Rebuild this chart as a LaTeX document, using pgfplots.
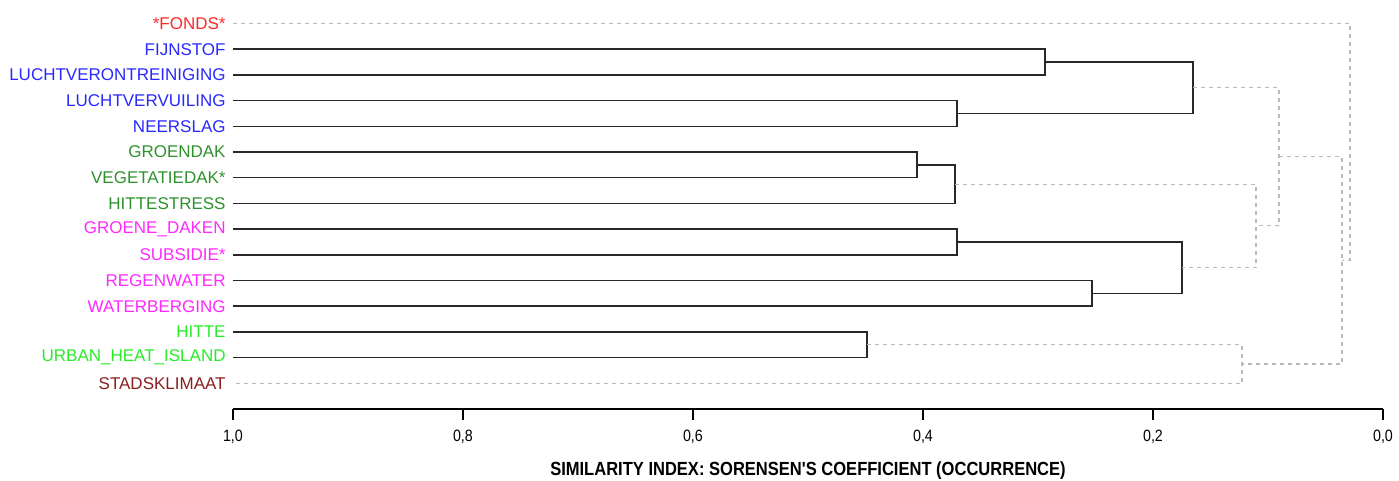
\documentclass[border=0pt]{standalone}
\usepackage{pgfplots}
\pgfplotsset{compat=1.18}
\usepackage{fontspec}
\setmainfont{Liberation Sans}
\newfontfamily\narrowfont[FakeStretch=0.87]{Liberation Sans}
\definecolor{cRed}{RGB}{255,40,40}
\definecolor{cBlue}{RGB}{40,40,255}
\definecolor{cGreen}{RGB}{45,145,45}
\definecolor{cMag}{RGB}{255,40,255}
\definecolor{cLime}{RGB}{40,235,40}
\definecolor{cBrown}{RGB}{140,30,30}
\definecolor{cLine}{RGB}{40,40,40}
\definecolor{cDash}{RGB}{185,185,185}
\begin{document}
\begin{tikzpicture}
\begin{axis}[
  name=ax,
  scale only axis,
  width=575pt, height=204.5pt,
  xmin=0, xmax=1, x dir=reverse,
  ymin=-15, ymax=0.914,
  clip=false,
  axis x line*=bottom, axis y line*=left,
  y axis line style={draw=none},
  x axis line style={-, line width=0.75pt, black},
  xtick={0,0.2,0.4,0.6,0.8,1},
  xticklabels={{0,0},{0,2},{0,4},{0,6},{0,8},{1,0}},
  tick align=outside,
  major tick length=5.5pt,
  xtick style={line width=0.6pt, black},
  xticklabel style={font=\narrowfont\fontsize{8.2}{9}\selectfont, yshift=-1.5pt},
  ytick={-14,-13,-12,-11,-10,-9,-8,-7,-6,-5,-4,-3,-2,-1,0},
  yticklabels={
    \textcolor{cBrown}{STADSKLIMAAT},
    \textcolor{cLime}{URBAN\_HEAT\_ISLAND},
    \textcolor{cLime}{HITTE},
    \textcolor{cMag}{WATERBERGING},
    \textcolor{cMag}{REGENWATER},
    \textcolor{cMag}{SUBSIDIE*},
    \textcolor{cMag}{GROENE\_DAKEN},
    \textcolor{cGreen}{HITTESTRESS},
    \textcolor{cGreen}{VEGETATIEDAK*},
    \textcolor{cGreen}{GROENDAK},
    \textcolor{cBlue}{NEERSLAG},
    \textcolor{cBlue}{LUCHTVERVUILING},
    \textcolor{cBlue}{LUCHTVERONTREINIGING},
    \textcolor{cBlue}{FIJNSTOF},
    \textcolor{cRed}{*FONDS*}},
  ytick style={draw=none},
  yticklabel style={font=\fontsize{8.5}{10}\selectfont, inner sep=0pt, xshift=2pt},
  xlabel={\narrowfont\bfseries SIMILARITY INDEX: SORENSEN'S COEFFICIENT (OCCURRENCE)},
  every axis x label/.style={at={(axis description cs:0.5,0)}, anchor=center, yshift=-31pt, font=\fontsize{9.5}{11}\selectfont},
  solid line/.style={draw=cLine, line width=0.75pt, mark=none},
  dash line/.style={draw=cDash, line width=0.6pt, dash pattern=on 2pt off 2pt, mark=none},
]
% solid merges
\addplot[solid line] coordinates {(1,-1) (0.2939,-1) (0.2939,-2) (1,-2)};
\addplot[solid line] coordinates {(1,-3) (0.3704,-3) (0.3704,-4) (1,-4)};
\addplot[solid line] coordinates {(0.2939,-1.5) (0.1652,-1.5) (0.1652,-3.5) (0.3704,-3.5)};
\addplot[solid line] coordinates {(1,-5) (0.4052,-5) (0.4052,-6) (1,-6)};
\addplot[solid line] coordinates {(0.4052,-5.5) (0.3722,-5.5) (0.3722,-7) (1,-7)};
\addplot[solid line] coordinates {(1,-8) (0.3704,-8) (0.3704,-9) (1,-9)};
\addplot[solid line] coordinates {(1,-10) (0.2530,-10) (0.2530,-11) (1,-11)};
\addplot[solid line] coordinates {(0.3704,-8.5) (0.1748,-8.5) (0.1748,-10.5) (0.2530,-10.5)};
\addplot[solid line] coordinates {(1,-12) (0.4487,-12) (0.4487,-13) (1,-13)};
% dashed merges
\addplot[dash line] coordinates {(0.3722,-6.25) (0.1104,-6.25) (0.1104,-9.5) (0.1748,-9.5)};
\addplot[dash line] coordinates {(0.1652,-2.5) (0.0904,-2.5) (0.0904,-7.875) (0.1104,-7.875)};
\addplot[dash line] coordinates {(0.4487,-12.5) (0.1226,-12.5) (0.1226,-14) (1,-14)};
\addplot[dash line] coordinates {(0.0904,-5.1875) (0.0357,-5.1875) (0.0357,-13.25) (0.1226,-13.25)};
\addplot[dash line] coordinates {(1,0) (0.0287,0) (0.0287,-9.21875) (0.0357,-9.21875)};
\end{axis}
\pgfresetboundingbox
\path[use as bounding box] ([xshift=-116.5pt,yshift=-36pt]ax.south west) rectangle ([xshift=8pt]ax.north east);
\end{tikzpicture}
\end{document}
